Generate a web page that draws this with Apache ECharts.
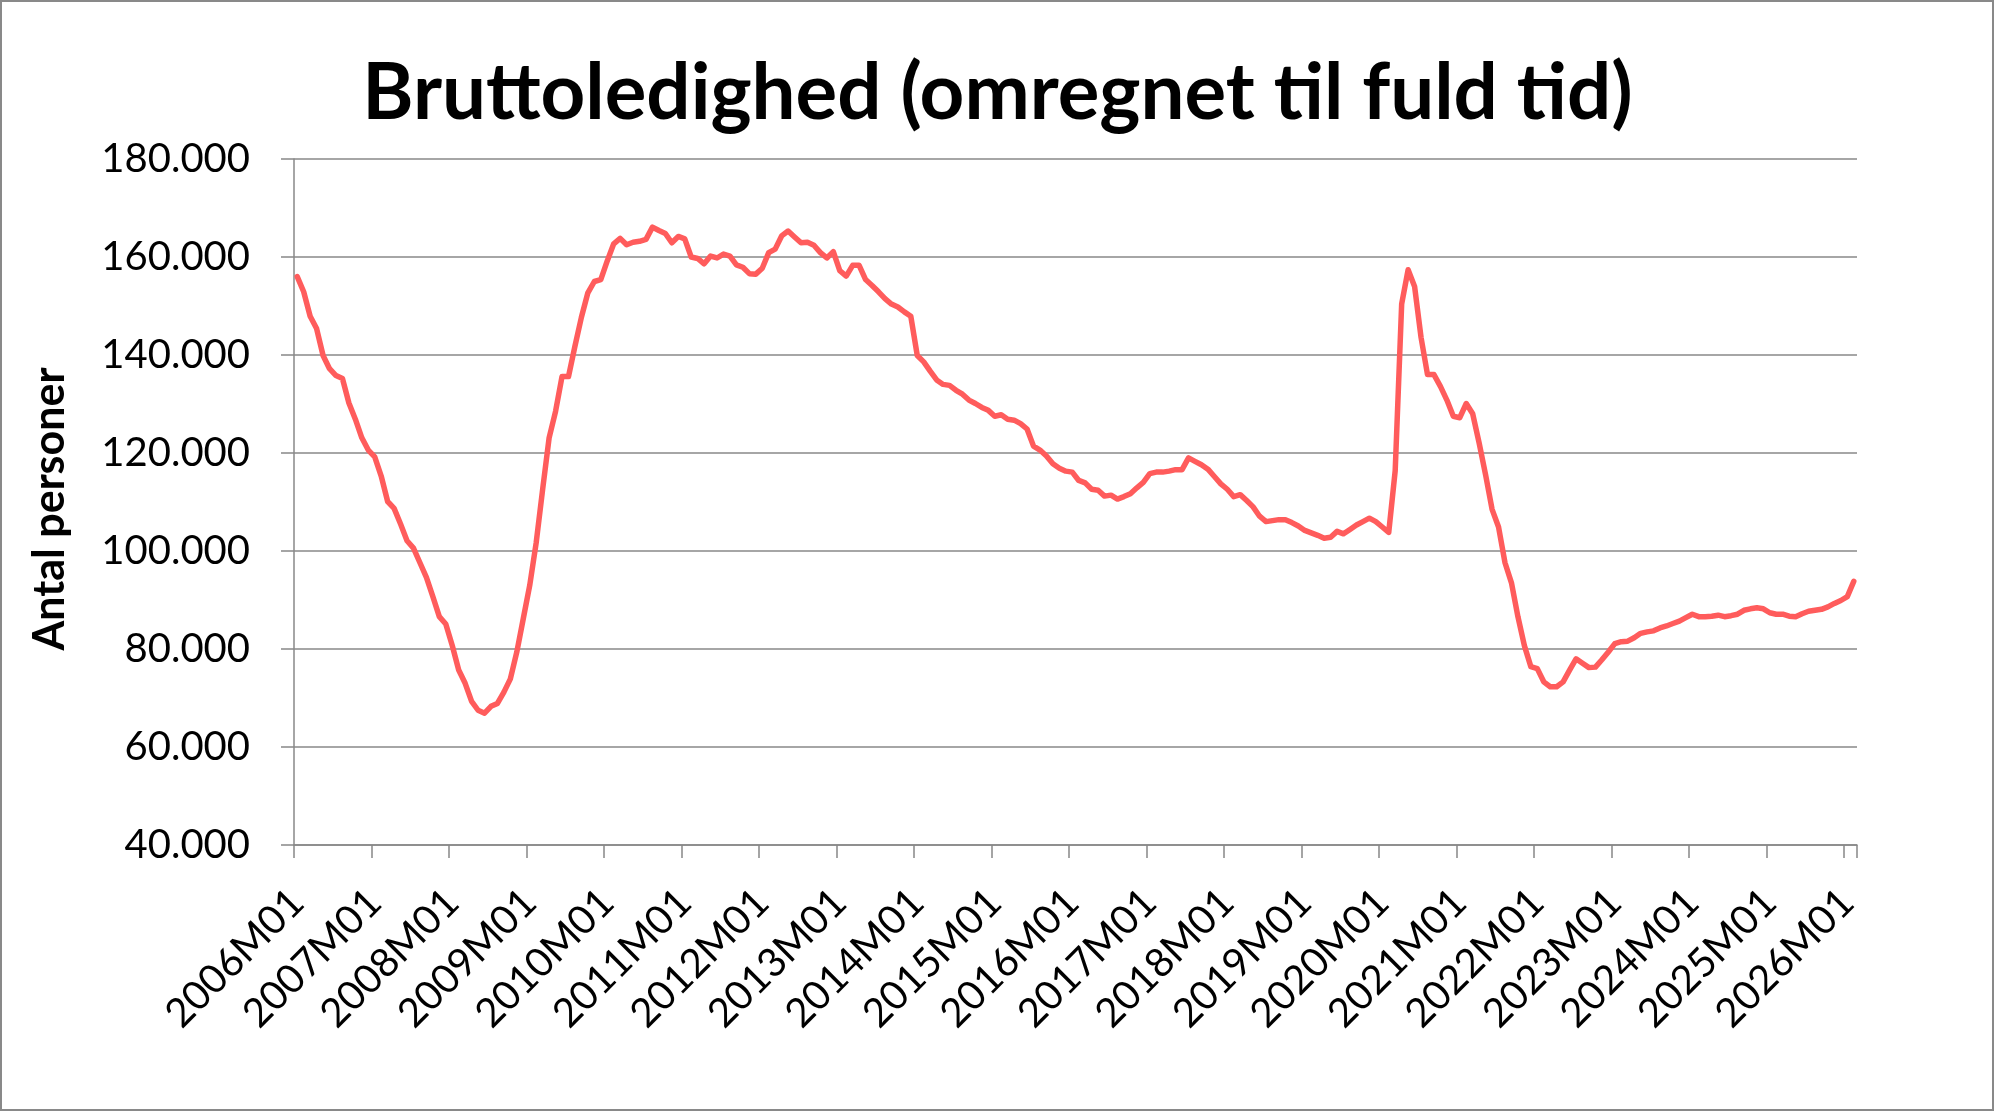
<!DOCTYPE html>
<html>
<head>
<meta charset="utf-8">
<script src="https://cdn.jsdelivr.net/npm/echarts@6/dist/echarts.min.js"></script>
<style>
  html, body { margin: 0; padding: 0; background: #ffffff; }
  #chart { width: 1995px; height: 1112px; }
</style>
</head>
<body>
<div id="chart"></div>
<script>
// Title and axis texts
const chartTitle = 'Bruttoledighed (omregnet til fuld tid)';
const yAxisName = 'Antal personer';

// Period range (monthly categories 2006M01 .. 2026M02)
const startYear = 2006;
const monthCount = 242;

// Y axis ticks (thousands of persons)
const yMin = 40;
const yMax = 180;
const yStep = 20;

// Gross unemployment, full-time equivalents, thousands of persons
const values2006to2010 = [
  156.0, 152.9, 147.9, 145.4, 139.9, 137.2, 135.8, 135.2, 130.2, 126.9, 123.1, 120.6,
  119.2, 115.3, 110.1, 108.7, 105.5, 102.1, 100.6, 97.6, 94.6, 90.7, 86.6, 85.1,
  80.7, 75.7, 73.0, 69.3, 67.5, 66.9, 68.3, 68.9, 71.2, 73.9, 79.4, 86.2,
  93.0, 101.7, 112.6, 123.1, 128.5, 135.6, 135.6, 141.8, 147.7, 152.7, 155.0, 155.4,
  159.2, 162.7, 163.8, 162.5, 163.0, 163.2, 163.6, 166.1, 165.4, 164.8, 162.9, 164.2
];
const values2011to2015 = [
  163.7, 160.0, 159.7, 158.6, 160.2, 159.8, 160.6, 160.2, 158.4, 157.9, 156.6, 156.5,
  157.7, 160.9, 161.6, 164.3, 165.3, 164.1, 162.9, 163.0, 162.4, 160.9, 159.8, 161.1,
  157.2, 156.1, 158.3, 158.3, 155.4, 154.2, 152.9, 151.5, 150.4, 149.8, 148.8, 147.9,
  139.9, 138.6, 136.7, 134.9, 134.0, 133.8, 132.8, 132.0, 130.8, 130.1, 129.3, 128.7,
  127.5, 127.8, 126.9, 126.7, 126.0, 124.9, 121.4, 120.6, 119.4, 117.8, 116.9, 116.3
];
const values2016to2020 = [
  116.1, 114.4, 113.9, 112.6, 112.4, 111.2, 111.4, 110.6, 111.1, 111.7, 112.9, 114.0,
  115.8, 116.1, 116.1, 116.3, 116.6, 116.6, 119.0, 118.3, 117.6, 116.7, 115.2, 113.7,
  112.6, 111.1, 111.5, 110.3, 109.0, 107.1, 106.0, 106.2, 106.4, 106.4, 105.8, 105.1,
  104.2, 103.7, 103.2, 102.6, 102.8, 104.0, 103.5, 104.4, 105.3, 106.0, 106.7, 106.0,
  104.9, 103.8, 116.4, 150.4, 157.4, 154.0, 143.6, 136.0, 136.0, 133.6, 130.8, 127.5
];
const values2021to2026 = [
  127.2, 130.1, 128.0, 122.0, 115.5, 108.5, 104.9, 97.6, 93.5, 86.6, 80.7, 76.4,
  76.0, 73.3, 72.3, 72.3, 73.3, 75.7, 78.0, 77.1, 76.2, 76.3, 77.8, 79.4,
  81.1, 81.5, 81.6, 82.3, 83.2, 83.5, 83.7, 84.3, 84.7, 85.2, 85.7, 86.4,
  87.1, 86.6, 86.6, 86.7, 86.9, 86.6, 86.8, 87.1, 87.9, 88.2, 88.4, 88.2,
  87.4, 87.1, 87.1, 86.7, 86.6, 87.2, 87.7, 87.9, 88.1, 88.6, 89.3, 89.9,
  90.7, 93.8
];

const values = values2006to2010.concat(values2011to2015, values2016to2020, values2021to2026);

const categories = [];
for (let k = 0; k < monthCount; k++) {
  const y = startYear + Math.floor(k / 12);
  const m = (k % 12) + 1;
  categories.push(y + 'M' + (m < 10 ? '0' + m : String(m)));
}

const axisGray = '#888888';
const FONT = 'Lato';

const chart = echarts.init(document.getElementById('chart'), null, { renderer: 'canvas' });
chart.setOption({
  animation: false,
  backgroundColor: '#ffffff',
  title: {
    text: chartTitle,
    left: 'center',
    top: 50,
    textStyle: { fontFamily: FONT, fontSize: 78, fontWeight: 'bold', color: '#000000' }
  },
  graphic: [{
    type: 'rect',
    shape: { x: 1, y: 1, width: 1992, height: 1109 },
    style: { fill: 'none', stroke: '#898989', lineWidth: 2 },
    silent: true
  }],
  grid: { left: 294, right: 138, top: 159, bottom: 267, containLabel: false },
  xAxis: {
    type: 'category',
    data: categories,
    boundaryGap: true,
    axisLine: { show: true, lineStyle: { color: axisGray, width: 1.5 } },
    axisTick: { show: true, interval: 11, length: 13, lineStyle: { color: axisGray, width: 1.5 } },
    axisLabel: {
      interval: 11, rotate: 45, margin: 51,
      fontFamily: FONT, fontSize: 40, color: '#000000'
    },
    splitLine: { show: false }
  },
  yAxis: {
    type: 'value',
    min: yMin, max: yMax, interval: yStep,
    name: yAxisName,
    nameLocation: 'middle',
    nameRotate: 90,
    nameGap: 222,
    nameTextStyle: {
      fontFamily: FONT, fontSize: 43, fontWeight: 'bold', color: '#000000',
      padding: [0, 14, 0, 0]
    },
    axisLine: { show: true, lineStyle: { color: axisGray, width: 1.5 } },
    axisTick: { show: true, length: 13, lineStyle: { color: axisGray, width: 1.5 } },
    axisLabel: {
      margin: 44, fontFamily: FONT, fontSize: 40, color: '#000000',
      formatter: function (v) { return v + '.000'; }
    },
    splitLine: { show: true, lineStyle: { color: axisGray, width: 1.5 } }
  },
  series: [{
    type: 'line',
    data: values,
    showSymbol: false,
    symbol: 'none',
    lineStyle: { color: '#FF5C5C', width: 5.5, join: 'round', cap: 'round' },
    itemStyle: { color: '#FF5C5C' }
  }]
});
</script>
</body>
</html>
